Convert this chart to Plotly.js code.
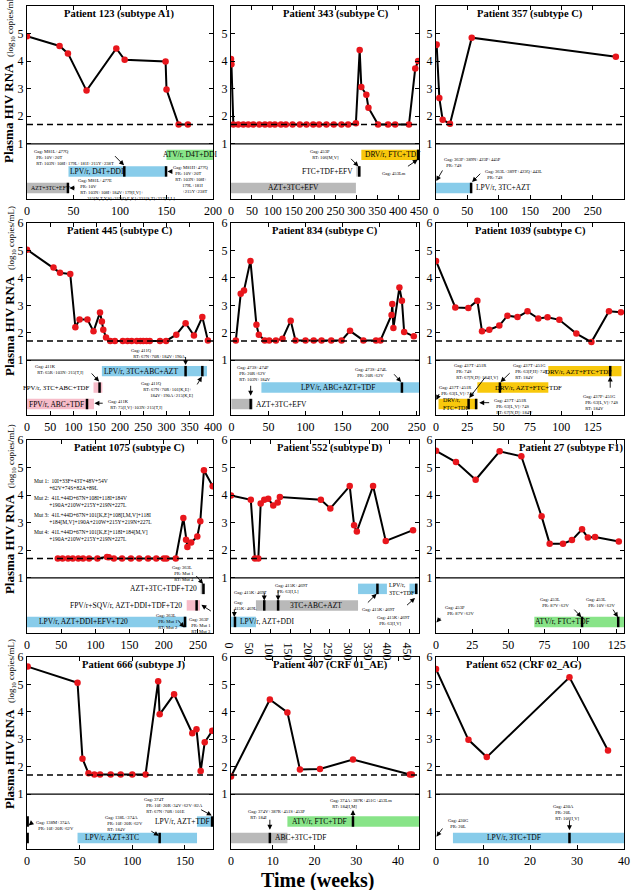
<!DOCTYPE html>
<html><head><meta charset="utf-8">
<script src="https://cdn.plot.ly/plotly-3.0.1.min.js"></script>
<style>html,body{margin:0;padding:0;background:#fff}#chart{width:631px;height:890px}</style>
</head><body><div id="chart"></div>
<script>
// ---------------- DATA ----------------
const weeks123 = [0, 35, 44, 64, 96, 105, 149, 150, 163, 173];
const rna123   = [4.9, 4.55, 4.28, 2.93, 4.46, 4.05, 3.99, 2.97, 1.7, 1.7];
const reg123Name  = ['ATV/r, D4T+DDI', 'LPV/r, D4T+DDI', 'AZT+3TC+EFV'];
const reg123Start = [150, 44.6, 0];
const reg123End   = [200, 150, 44.6];
const reg123Row   = [0, 1, 2];
const seq123Week  = [104.6, 149.5, 44];
const seq123Row   = [1, 1, 2];

const weeks343 = [0, 1, 5.6, 17.5, 29.5, 41.4, 53.3, 67.7, 81.2, 93.2, 105, 119.5, 131.4, 147.3, 164.8, 180.8, 196.7, 211, 228.5, 246, 264.4, 280.4, 299, 308, 312, 324, 329, 352, 376, 393, 426, 441, 448];
const rna343   = [4.08, 3.89, 1.7, 1.7, 1.7, 1.7, 1.7, 1.7, 1.7, 1.7, 1.7, 1.7, 1.7, 1.7, 1.7, 1.7, 1.7, 1.7, 1.7, 1.7, 1.7, 1.7, 1.75, 4.4, 3.06, 2.78, 2.31, 1.7, 1.7, 1.7, 1.7, 3.73, 4.0];
const reg343Name  = ['DRV/r, FTC+TDF', 'FTC+TDF+EFV', 'AZT+3TC+EFV'];
const reg343Start = [312, 300, 0];
const reg343End   = [450, 310, 299];
const reg343Row   = [0, 1, 2];
const seq343Week  = [307, 448];
const seq343Row   = [1, 0];

const weeks357 = [0, 1, 5.3, 10.6, 22.3, 57, 287];
const rna357   = [4.58, 4.6, 2.66, 1.87, 1.73, 4.85, 4.16];
const reg357Name  = ['LPV/r, 3TC+AZT'];
const reg357Start = [0];
const reg357End   = [57];
const reg357Row   = [2];
const seq357Week  = [56];
const seq357Row   = [2];

const weeks445 = [0, 57, 71, 93, 104, 113, 130, 143, 157, 161, 164, 170, 179, 189, 206, 216, 225, 236, 244, 250, 257, 264, 286, 299, 321, 341, 359, 377, 389];
const rna445   = [5.03, 4.38, 4.19, 4.14, 2.2, 2.48, 2.48, 2.05, 2.74, 2.41, 2.11, 1.83, 1.7, 1.7, 1.7, 1.7, 1.7, 1.7, 1.7, 1.7, 1.7, 1.7, 1.7, 1.7, 1.93, 2.35, 1.9, 2.57, 1.72];
const reg445Name  = ['LPV/r, 3TC+ABC+AZT', 'FPV/r, 3TC+ABC+TDF', 'FPV/r, ABC+TDF'];
const reg445Start = [161, 143, 0];
const reg445End   = [387, 162, 144];
const reg445Row   = [0, 1, 2];
const seq445Week  = [341, 377, 156, 129];
const seq445Row   = [0, 0, 1, 2];

const weeks834 = [6, 12.6, 17, 25.7, 33.8, 37, 45, 51, 60, 69, 80, 86.5, 100, 111, 121.6, 134.7, 148.6, 160, 178, 195, 201, 216, 217, 218.5, 226.6, 230, 233, 246];
const rna834   = [1.72, 3.42, 3.54, 4.62, 2.29, 1.93, 1.72, 1.72, 1.72, 1.78, 2.44, 1.72, 1.72, 1.72, 1.72, 1.72, 1.72, 2.07, 1.72, 1.72, 1.72, 2.65, 3.05, 2.17, 3.65, 3.17, 2.03, 1.87];
const reg834Name  = ['LPV/r, ABC+AZT+TDF', 'AZT+3TC+EFV'];
const reg834Start = [40.5, 0];
const reg834End   = [253, 29];
const reg834Row   = [1, 2];
const seq834Week  = [230, 26];
const seq834Row   = [1, 2];

const weeks1039 = [0, 15.4, 25.8, 33, 36.7, 42.5, 50.5, 57, 65, 73, 81.6, 89, 98.4, 112, 124, 138, 147.6];
const rna1039   = [4.62, 2.92, 2.9, 3.17, 2.05, 2.11, 2.26, 2.62, 2.57, 2.78, 2.52, 2.56, 2.47, 1.97, 1.66, 2.78, 2.75];
const reg1039Name  = ['DRV/r, AZT+FTC+TDF', 'DRV/r, AZT+FTC+TDF', 'DRV/r,<br>FTC+TDF'];
const reg1039Start = [89.6, 33, 2];
const reg1039End   = [148, 89.6, 33];
const reg1039Row   = [0, 1, 2];
const seq1039Week  = [139, 51, 26, 32];
const seq1039Row   = [0, 1, 2, 2];

const weeks1075 = [45, 52, 60, 67, 75, 82, 90.7, 103, 117, 119.5, 127, 139, 152, 164, 177, 189, 200, 204, 217.5, 228.6, 232.5, 234.5, 240, 249, 253.4, 258.7, 271.5];
const rna1075   = [1.7, 1.7, 1.7, 1.7, 1.7, 1.7, 1.7, 1.7, 1.76, 1.75, 1.7, 1.7, 1.7, 1.7, 1.7, 1.7, 1.7, 1.7, 1.7, 3.17, 2.38, 2.12, 2.28, 2.5, 3.05, 4.9, 4.32];
const reg1075Name  = ['AZT+3TC+TDF+T20', 'FPV/r+SQV/r, AZT+DDI+TDF+T20', 'LPV/r, AZT+DDI+EFV+T20'];
const reg1075Start = [254, 233.5, 0];
const reg1075End   = [260, 253, 233.5];
const reg1075Row   = [0, 1, 2];
const seq1075Week  = [258, 248, 231];
const seq1075Row   = [0, 1, 2];

const weeks552 = [0, 50, 60.5, 69, 75, 84, 94, 106.7, 118, 123.5, 227, 251, 300, 311, 318, 359, 391, 460];
const rna552   = [3.99, 3.83, 1.7, 1.7, 3.7, 3.83, 3.87, 3.62, 3.73, 3.93, 3.83, 3.52, 4.33, 2.91, 2.68, 4.33, 2.34, 2.73];
const reg552Name  = ['LPV/r,<br>3TC+TDF', 'LPV/r,<br>3TC+TDF', '3TC+ABC+AZT', 'LPV/r, AZT+DDI'];
const reg552Start = [321, 451, 63, 0];
const reg552End   = [394, 472, 321, 63];
const reg552Row   = [0, 0, 1, 2];
const seq552Week  = [370, 468, 84, 119, 10];
const seq552Row   = [0, 0, 1, 1, 2];

const weeks27 = [0, 13.8, 27.4, 44, 59, 73, 78.6, 87.8, 94, 101, 105, 110, 126.4];
const rna27   = [5.61, 5.2, 4.56, 5.59, 5.41, 3.23, 2.24, 2.24, 2.37, 2.76, 2.46, 2.48, 2.32];
const reg27Name  = ['ATV/r, FTC+TDF'];
const reg27Start = [68];
const reg27End   = [130];
const reg27Row   = [2];
const seq27Week  = [101, 126];
const seq27Row   = [2, 2];

const weeks666 = [0.6, 48, 52.7, 58.4, 64, 69.4, 79.5, 89, 100, 112.6, 124.6, 126, 139.7, 157, 161, 165, 168.8, 176];
const rna666   = [5.65, 5.06, 2.29, 1.76, 1.72, 1.72, 1.72, 1.72, 1.72, 1.72, 5.12, 3.91, 4.64, 3.22, 3.37, 1.84, 2.89, 3.31];
const reg666Name  = ['LPV/r, AZT+TDF', 'LPV/r, AZT+3TC'];
const reg666Start = [161.5, 48];
const reg666End   = [176.7, 161.5];
const reg666Row   = [1, 2];
const seq666Week  = [0.6, 0.6, 126, 175.8];
const seq666Row   = [1, 2, 2, 1];

const weeks407 = [0, 9.3, 13.5, 16.5, 21.3, 29.2, 42.8, 43.3];
const rna407   = [1.64, 4.45, 3.98, 1.9, 1.92, 2.26, 1.72, 1.72];
const reg407Name  = ['ATV/r, FTC+TDF', 'ABC+3TC+TDF'];
const reg407Start = [13.5, 0];
const reg407End   = [45, 13.5];
const reg407Row   = [1, 2];
const seq407Week  = [29.2, 9.3];
const seq407Row   = [1, 2];

const weeks652 = [0, 6.9, 10.8, 28.4, 36.6];
const rna652   = [5.56, 2.98, 2.35, 5.26, 2.59];
const reg652Name  = ['LPV/r, 3TC+TDF'];
const reg652Start = [3.6];
const reg652End   = [40];
const reg652Row   = [2];
const seq652Week  = [28.4];
const seq652Row   = [2];

const detectionLimit = 1.7;
const yTicks = [1, 2, 3, 4, 5, 6];

// ---------------- LAYOUT / STYLE ----------------
const FONT = 'Liberation Serif, Times New Roman, serif';
const colX = [[0.0428, 0.3376], [0.3661, 0.6640], [0.6910, 0.9889]];
const rowY = [[0.7764, 0.9933], [0.5337, 0.7494], [0.2888, 0.5056], [0.0461, 0.2618]];
const rowLevel = [0.6, 0, -0.6];
const BAR_H = 0.38;
function regColor(n) {
  if (n.startsWith('LPV')) return '#88CCEA';
  if (n.startsWith('ATV')) return '#88E488';
  if (n.startsWith('DRV')) return '#F8C80C';
  if (n.startsWith('FPV')) return '#F7BCC9';
  return '#B9B9B9';
}

const panels = [
 {title:'Patient 123 (subtype A1)', tx:0.495, xr:[0,200], dt:50, w:weeks123, v:rna123,
  rn:reg123Name, rs:reg123Start, re:reg123End, rr:reg123Row, sw:seq123Week, sr:seq123Row,
  labels:[[175,'center'],[75,'center'],[2,'left',5.8]],
  notes:[['Gag: M81L+477Q<br>  PR: 10V+20T<br>  RT: 103N+108I+179L+181I+215Y+238T',5.4,0.9],
         ['Gag: M81H+477Q<br>  PR: 10V+20T<br>  RT: 103N+108I+<br>        179L+181I<br>        +215Y+238T',155,0.3],
         ['Gag: M81L+477E<br>  PR: 10V<br>  RT: 103N+108I+184V+179[I,V]+<br>        215[N,T,Y,S]+219[Q,E,K]+221[S,T]+227[H,L]',53,-0.18]],
  arrows:[[93,0.61,104.3,0.22],[157,0.0,151,0.0],[53,-0.6,45.5,-0.6]]},
 {title:'Patient 343 (subtype C)', tx:0.557, xr:[0,450], dt:50, w:weeks343, v:rna343,
  rn:reg343Name, rs:reg343Start, re:reg343End, rr:reg343Row, sw:seq343Week, sr:seq343Row,
  labels:[[316,'left'],[297,'right'],[150,'center']],
  notes:[['Gag: 453P<br>  RT: 106[M,V]',185,0.88],['Gag: 453Lm',356,0.09]],
  arrows:[[284,0.51,305,0.18],[420,0.15,447,0.43]]},
 {title:'Patient 357 (subtype C)', tx:0.5, xr:[0,300], dt:50, w:weeks357, v:rna357,
  rn:reg357Name, rs:reg357Start, re:reg357End, rr:reg357Row, sw:seq357Week, sr:seq357Row,
  labels:[[60,'left']],
  notes:[['Gag: 363F+389N+423P+445P<br>  PR: 74S',9,0.61],['Gag: 363L+389T+423Q+443L<br>  PR: 74S',75.5,0.15]],
  arrows:[[11.7,0.09,0.5,-0.35],[73,-0.03,57.5,-0.38]]},
 {title:'Patient 445 (subtype C)', tx:0.5, xr:[0,400], dt:50, w:weeks445, v:rna445,
  rn:reg445Name, rs:reg445Start, re:reg445End, rr:reg445Row, sw:seq445Week, sr:seq445Row,
  labels:[[245,'center'],[140,'right',6.8],[64,'center']],
  notes:[['Gag: 411Q<br>  RT: 67N+70R+184V+190A',220,1.53],['Gag: 411K<br>  RT: 65R+103N+215[T,I]',13,0.93],
         ['Gag: 411Q<br>  RT: 67N+70R+101[K,E]+<br>        184V+190A+215[K,E]',241,0.32],['Gag: 411K<br>  RT: 75[I,V]+103N+215[T,I]',170,-0.36]],
  arrows:[[341,1.17,341,0.82],[136,0.57,155,0.22],[364,0.06,376,0.4],[166,-0.57,145,-0.57]]},
 {title:'Patient 834 (subtype C)', tx:0.5, xr:[-0.5,253], dt:50, w:weeks834, v:rna834,
  rn:reg834Name, rs:reg834Start, re:reg834End, rr:reg834Row, sw:seq834Week, sr:seq834Row,
  labels:[[144,'center'],[30.6,'left']],
  notes:[['Gag: 473S+474F<br>  PR: 20R+62V<br>  RT: 103N+184V',4.5,0.88],['Gag: 473S+474L<br>  PR: 20R+62V',164,0.84]],
  arrows:[[26,0.12,26,-0.3],[217.6,0.54,229,0.2]]},
 {title:'Patient 1039 (subtype C)', tx:0.5, xr:[0,150], dt:25, w:weeks1039, v:rna1039,
  rn:reg1039Name, rs:reg1039Start, re:reg1039End, rr:reg1039Row, sw:seq1039Week, sr:seq1039Row,
  labels:[[114,'center',6.8],[74,'center',6.8],[3.7,'left']],
  notes:[['Gag: 437T+451R<br>  PR: 74S<br>  RT: 67[N,D]+184[I,V]',12.5,0.96],['Gag: 437T+451G<br>  PR: 63[P,H]+74S<br>  RT: 184V',60,0.96],
         ['Gag: 437T+451R<br>  PR: 63[L,V]+74S',0.5,0.18],['Gag: 437T+451R<br>  PR: 63[L,V]+74S<br>  RT: 67[N,D]+184V',44.4,-0.3],
         ['Gag: 437P+451G<br>  PR: 63[L,V]+74S<br>  RT: 184V',116,-0.16]],
  arrows:[[40,0.42,26.5,-0.38],[60,0.58,51.5,0.2],[3,-0.18,0.3,-0.45],[43.6,-0.55,34.5,-0.55],[139,-0.06,139,0.4]]},
 {title:'Patient 1075 (subtype C)', tx:0.55, xr:[0,272], dt:50, w:weeks1075, v:rna1075,
  rn:reg1075Name, rs:reg1075Start, re:reg1075End, rr:reg1075Row, sw:seq1075Week, sr:seq1075Row,
  labels:[[251,'right'],[229,'right'],[82,'center']],
  notes:[['Mut 1:  10I+33F+43T+48V+54V<br>           +62V+74S+82A+89L',8,4.7,5.5],
         ['Mut 2:  41L+44D+67N+108I+118I+184V<br>           +190A+210W+215Y+219N+227L',8,4.08,5.5],
         ['Mut 3:  41L+44D+67N+101[K,E]+108[I,M,V]+118I<br>           +184[M,V]+190A+210W+215Y+219N+227L',8,3.47,5.5],
         ['Mut 4:  41L+44D+67N+101[K,E]+118I+184[M,V]<br>           +190A+210W+215Y+219N+227L',8,2.84,5.5],
         ['Gag: 363L<br>  PR: Mut 1<br>  RT: Mut 4',209,1.55],['Gag: 363L<br>  PR: Mut 1<br>  RT: Mut 2',186,-0.22],
         ['Gag: 363P<br>  PR: Mut 1<br>  RT: Mut 3',234.5,-0.34]],
  arrows:[[245.6,1.12,257.5,0.78],[219,-0.49,230,-0.8],[271,-0.24,255,0.02]]},
 {title:'Patient 552 (subtype D)', tx:0.527, xr:[0,475], dt:50, w:weeks552, v:rna552,
  rn:reg552Name, rs:reg552Start, re:reg552End, rr:reg552Row, sw:seq552Week, sr:seq552Row,
  labels:[[395,'left'],null,[214,'center'],[18.5,'left']],
  notes:[['Gag:<br>415K+469L',1.7,0.27],['Gag: 415K+469T',1.7,0.63],['Gag: 415K+469T<br>  PR: 63[I,L]',105,0.88],
         ['Gag: 415K+469T',325,0.02],['Gag: 415K+469T<br>  PR: 63[I,V]',363,-0.28]],
  arrows:[[8.4,-0.1,8.4,-0.42],[84,0.52,84,0.18],[119,0.6,119,0.18],[342,0.05,368,0.42],[441,-0.04,465,0.27]]},
 {title:'Patient 27 (subtype F1)', tx:0.72, xr:[0,130], dt:25, w:weeks27, v:rna27,
  rn:reg27Name, rs:reg27Start, re:reg27End, rr:reg27Row, sw:seq27Week, sr:seq27Row,
  labels:[[67,'left']],
  notes:[['Gag: 453P<br>  PR: 87V+62V',4.6,0.09],['Gag: 453L<br>  PR: 87V+62V',70.6,0.39],['Gag: 453L<br>  PR: 10V+62V',102.3,0.39]],
  arrows:[[3.9,-0.4,0.3,-0.62],[94.7,-0.1,100.5,-0.43],[121.8,-0.1,125.8,-0.43]]},
 {title:'Patient 666 (subtype J)', tx:0.57, xr:[0,176.7], dt:50, w:weeks666, v:rna666,
  rn:reg666Name, rs:reg666Start, re:reg666End, rr:reg666Row, sw:seq666Week, sr:seq666Row,
  labels:[[176,'right'],[81,'center']],
  notes:[['Gag: 138M+374A<br>  PR: 10I+20R+62V',6.3,0.14],['Gag: 138L+374A<br>  PR: 10I+20R+62V<br>  RT: 184V',72.6,0.3],
         ['Gag: 374T<br>  PR: 10I+20R+34V+62V+82A<br>  RT: 67N+70R+101E',108.8,0.96]],
  arrows:[[5.4,-0.02,1.5,-0.14],[116.7,-0.32,125.3,-0.52],[164,0.46,175.5,0.22]]},
 {title:'Patient 407 (CRF 01_AE)', tx:0.527, xr:[0,45], dt:10, w:weeks407, v:rna407,
  rn:reg407Name, rs:reg407Start, re:reg407End, rr:reg407Row, sw:seq407Week, sr:seq407Row,
  labels:[[21.3,'center'],[10,'left']],
  notes:[['Gag: 374V+387R+451S+453P<br>  RT: 184I',3.7,0.52],['Gag: 374A+387K+451G+453Lm<br>  RT: 184[I,M]',23.3,0.94]],
  arrows:[[9.3,0.12,9.3,-0.3],[29.2,-0.05,29.2,0.42]]},
 {title:'Patient 652 (CRF 02_AG)', tx:0.468, xr:[0,40], dt:10, w:weeks652, v:rna652,
  rn:reg652Name, rs:reg652Start, re:reg652End, rr:reg652Row, sw:seq652Week, sr:seq652Row,
  labels:[[16.5,'center']],
  notes:[['Gag: 430G<br>  PR: 20L',2.1,0.2],['Gag: 430A<br>  PR: 20L<br>  RT: 106[I,V]',24.5,0.72]],
  arrows:[[1.6,-0.2,0.1,-0.55],[28.4,0.1,28.4,-0.32]]}
];

const traces = [], annotations = [], shapes = [];
const layout = {
  width: 631, height: 890, margin: {l:0, r:0, t:0, b:0},
  paper_bgcolor: '#fff', plot_bgcolor: '#fff', showlegend: false,
  barmode: 'overlay', font: {family: FONT, color: '#000', size: 12}
};

const nb = s => s.replace(/  /g, '&nbsp;&nbsp;');

panels.forEach((p, i) => {
  const s = i === 0 ? '' : String(i + 1);
  const xa = 'x' + s, ya = 'y' + s;
  const axCommon = {showline: true, linecolor: '#000', linewidth: 1.2, mirror: 'ticks',
    ticks: 'inside', ticklen: 4, tickwidth: 1, tickcolor: '#000', showgrid: false, zeroline: false,
    tickfont: {family: FONT, size: 12, color: '#000'}};
  layout['xaxis' + s] = Object.assign({}, axCommon, {domain: colX[i % 3], range: p.xr, dtick: p.dt, tick0: 0, anchor: ya});
  layout['yaxis' + s] = Object.assign({}, axCommon, {domain: rowY[Math.floor(i / 3)], range: [-1, 6], tickvals: yTicks, anchor: xa});

  // treatment bars
  traces.push({type: 'bar', orientation: 'h', xaxis: xa, yaxis: ya, hoverinfo: 'skip',
    base: p.rs, x: p.re.map((e, k) => e - p.rs[k]), y: p.rr.map(r => rowLevel[r]),
    width: BAR_H, marker: {color: p.rn.map(regColor), line: {width: 0}}});
  // genotype sampling markers
  const mx = [], my = [];
  p.sw.forEach((w, k) => { const l = rowLevel[p.sr[k]]; mx.push(w, w, null); my.push(l - BAR_H / 2, l + BAR_H / 2, null); });
  traces.push({type: 'scatter', mode: 'lines', xaxis: xa, yaxis: ya, x: mx, y: my, hoverinfo: 'skip',
    line: {color: '#000', width: 2.5}});
  // viral load
  traces.push({type: 'scatter', mode: 'lines+markers', xaxis: xa, yaxis: ya, x: p.w, y: p.v,
    line: {color: '#000', width: 2}, marker: {color: '#E8161C', size: 6.5}});

  shapes.push({type: 'line', xref: xa + ' domain', x0: 0, x1: 1, yref: ya, y0: 1, y1: 1, line: {color: '#000', width: 1.2}});
  shapes.push({type: 'line', xref: xa + ' domain', x0: 0, x1: 1, yref: ya, y0: detectionLimit, y1: detectionLimit, line: {color: '#000', width: 1.5, dash: '6px,4px'}});

  annotations.push({xref: xa + ' domain', x: p.tx, yref: ya, y: 5.7, showarrow: false, xanchor: 'center', yanchor: 'middle',
    text: '<b>' + p.title + '</b>', font: {family: FONT, size: 10.5, color: '#000'}});
  p.labels.forEach((lb, k) => {
    if (!lb) return;
    const two = p.rn[k].indexOf('<br>') >= 0;
    annotations.push({xref: xa, yref: ya, x: lb[0], y: rowLevel[p.rr[k]], xanchor: lb[1], yanchor: 'middle', showarrow: false,
      text: p.rn[k], align: 'left', font: {family: FONT, size: lb[2] || (two ? 6 : 7.5), color: '#000'}});
  });
  p.notes.forEach(n => {
    annotations.push({xref: xa, yref: ya, x: n[1], y: n[2], xanchor: 'left', yanchor: 'top', showarrow: false, align: 'left',
      text: nb(n[0]), font: {family: FONT, size: n[3] || 4.6, color: '#000'}});
  });
  p.arrows.forEach(a => {
    annotations.push({xref: xa, yref: ya, axref: xa, ayref: ya, ax: a[0], ay: a[1], x: a[2], y: a[3], text: '',
      showarrow: true, arrowhead: 2, arrowsize: 1.1, arrowwidth: 0.9, arrowcolor: '#000'});
  });
});

// row y-axis titles
[0.9124, 0.673, 0.428, 0.1865].forEach(yc => {
  annotations.push({xref: 'paper', yref: 'paper', x: 0.0143, y: yc, xanchor: 'center', yanchor: 'middle', textangle: -90, showarrow: false,
    text: '<b>Plasma HIV RNA</b>  <span style="font-size:9px">(log<sub>10</sub> copies/mL)</span>', font: {family: FONT, size: 13, color: '#000'}});
});
annotations.push({xref: 'paper', yref: 'paper', x: 0.504, y: 0.0112, xanchor: 'center', yanchor: 'middle', showarrow: false,
  text: '<b>Time (weeks)</b>', font: {family: FONT, size: 20, color: '#000'}});

layout.annotations = annotations;
layout.shapes = shapes;
Plotly.newPlot('chart', traces, layout, {staticPlot: true, displayModeBar: false});
</script></body></html>
